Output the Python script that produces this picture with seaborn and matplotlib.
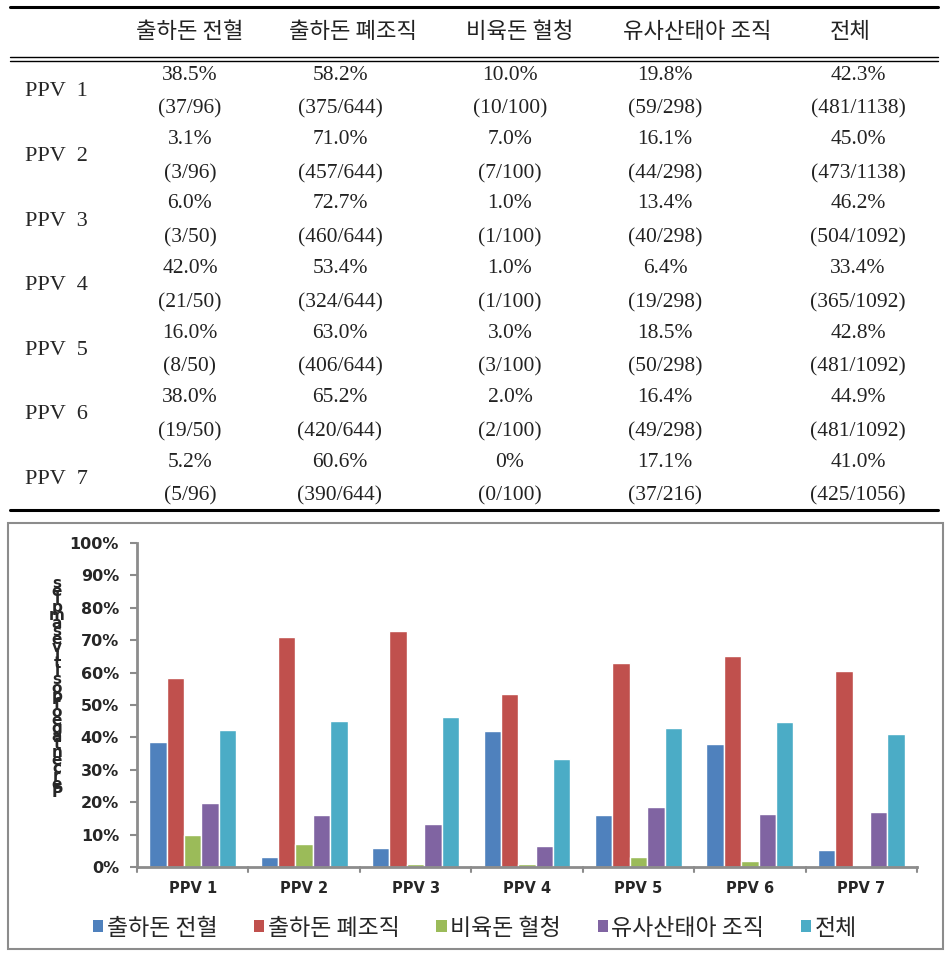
import matplotlib
matplotlib.use('Agg')
import matplotlib.pyplot as plt
import seaborn as sns
import pandas as pd
from matplotlib.patches import Rectangle
from matplotlib.lines import Line2D

# ---------- data ----------
groups = ['PPV 1', 'PPV 2', 'PPV 3', 'PPV 4', 'PPV 5', 'PPV 6', 'PPV 7']
samples = ['출하돈 전혈', '출하돈 폐조직', '비육돈 혈청', '유사산태아 조직', '전체']

pct_blood = [38.5, 3.1, 6.0, 42.0, 16.0, 38.0, 5.2]
pct_lung = [58.2, 71.0, 72.7, 53.4, 63.0, 65.2, 60.6]
pct_serum = [10.0, 7.0, 1.0, 1.0, 3.0, 2.0, 0.0]
pct_fetus = [19.8, 16.1, 13.4, 6.4, 18.5, 16.4, 17.1]
pct_total = [42.3, 45.0, 46.2, 33.4, 42.8, 44.9, 41.0]

cnt_blood = ['37/96', '3/96', '3/50', '21/50', '8/50', '19/50', '5/96']
cnt_lung = ['375/644', '457/644', '460/644', '324/644', '406/644', '420/644', '390/644']
cnt_serum = ['10/100', '7/100', '1/100', '1/100', '3/100', '2/100', '0/100']
cnt_fetus = ['59/298', '44/298', '40/298', '19/298', '50/298', '49/298', '37/216']
cnt_total = ['481/1138', '473/1138', '504/1092', '365/1092', '481/1092', '481/1092', '425/1056']

colors = ['#4F81BD', '#C0504D', '#9BBB59', '#8064A2', '#4BACC6']
ylabel_txt = 'Percentage of positive samples'

# ---------- figure ----------
W, H = 949, 955
sns.set_theme(style='white')
plt.rcParams['font.family'] = ['Noto Sans CJK KR', 'DejaVu Sans']
fig = plt.figure(figsize=(W / 100, H / 100), dpi=100)

def fx(px):
    return px / W

def fy(py):
    return 1 - py / H

# ---------- table ----------
serif = ['Liberation Serif', 'DejaVu Serif']
kr = ['Noto Sans CJK KR', 'DejaVu Sans']
col_x = [190, 340, 510, 665, 858]
head_x = [190, 353, 520, 697, 850]
fig.add_artist(Line2D([fx(10), fx(938)], [fy(7), fy(7)], color='black', lw=2.2))
fig.add_artist(Line2D([fx(10), fx(938)], [fy(57), fy(57)], color='black', lw=1.0))
fig.add_artist(Line2D([fx(10), fx(938)], [fy(61), fy(61)], color='black', lw=1.0))
fig.add_artist(Line2D([fx(10), fx(938)], [fy(510), fy(510)], color='black', lw=2.2))
for x, s in zip(head_x, samples):
    fig.text(fx(x), fy(32), s, ha='center', va='center', fontsize=16, family=kr, color='#222222')

pcts = [pct_blood, pct_lung, pct_serum, pct_fetus, pct_total]
cnts = [cnt_blood, cnt_lung, cnt_serum, cnt_fetus, cnt_total]
for i, g in enumerate(groups):
    y0 = 75 + i * 64.5
    fig.text(fx(25), fy(y0 + 17), g.replace(' ', '  '), ha='left', va='center', fontsize=16, family=serif)
    for j, x in enumerate(col_x):
        v = pcts[j][i]
        s = '0%' if v == 0 else f'{v:.1f}%'
        fig.text(fx(x), fy(y0), s, ha='center', va='center', fontsize=15.5, family=serif, color='#222222')
        fig.text(fx(x), fy(y0 + 34), f'({cnts[j][i]})', ha='center', va='center', fontsize=15.5,
                 family=serif, color='#222222')

# ---------- chart frame ----------
fig.add_artist(Rectangle((fx(8), fy(949)), fx(943 - 8), fy(523) - fy(949), transform=fig.transFigure,
                         fill=False, edgecolor='#8c8c8c', lw=1.5))

ax = fig.add_axes([fx(137), fy(867), fx(917 - 137), fy(543) - fy(867)])
df = pd.DataFrame({
    'group': groups * 5,
    'sample': [s for s in samples for _ in groups],
    'value': pct_blood + pct_lung + pct_serum + pct_fetus + pct_total,
})
sns.barplot(data=df, x='group', y='value', hue='sample', hue_order=samples, palette=colors,
            width=0.78, saturation=1, ax=ax, legend=False)
ax.set_xlim(-0.5, 6.5)
ax.set_ylim(0, 100)
ax.set_yticks(range(0, 101, 10))
ax.set_yticklabels([f'{v}%' for v in range(0, 101, 10)], fontsize=11.5, fontweight='bold', family='DejaVu Sans')
ax.set_xticks(range(7))
ax.set_xticklabels(groups, fontsize=10.5, fontweight='bold', family='DejaVu Sans')
ax.tick_params(axis='x', length=0, pad=10)
ax.tick_params(axis='y', length=5, width=1.5, color='#8c8c8c', direction='out', pad=8, left=True)
for k in range(8):
    ax.plot([k - 0.5, k - 0.5], [0, -1.6], color='#8c8c8c', lw=1.5, clip_on=False)
ax.set_xlabel('')
ax.set_ylabel('')
for side in ['top', 'right']:
    ax.spines[side].set_visible(False)
for side in ['left', 'bottom']:
    ax.spines[side].set_color('#8c8c8c')
    ax.spines[side].set_linewidth(2)

# garbled vertical y-label, stacked letters
fig.text(fx(57), fy(688), '\n'.join(ylabel_txt[::-1].replace(' ', '')), ha='center', va='center',
         fontsize=11, fontweight='bold', family='DejaVu Sans', linespacing=0.42)

# ---------- legend ----------
handles = [Rectangle((0, 0), 1, 1, facecolor=c, edgecolor='none') for c in colors]
fig.legend(handles, samples, loc='center', bbox_to_anchor=(fx(475), fy(928)), ncol=5, frameon=False,
           fontsize=16.5, handlelength=0.45, handleheight=0.45, handletextpad=0.15, columnspacing=1.6)

fig.savefig('out.png', dpi=100)
